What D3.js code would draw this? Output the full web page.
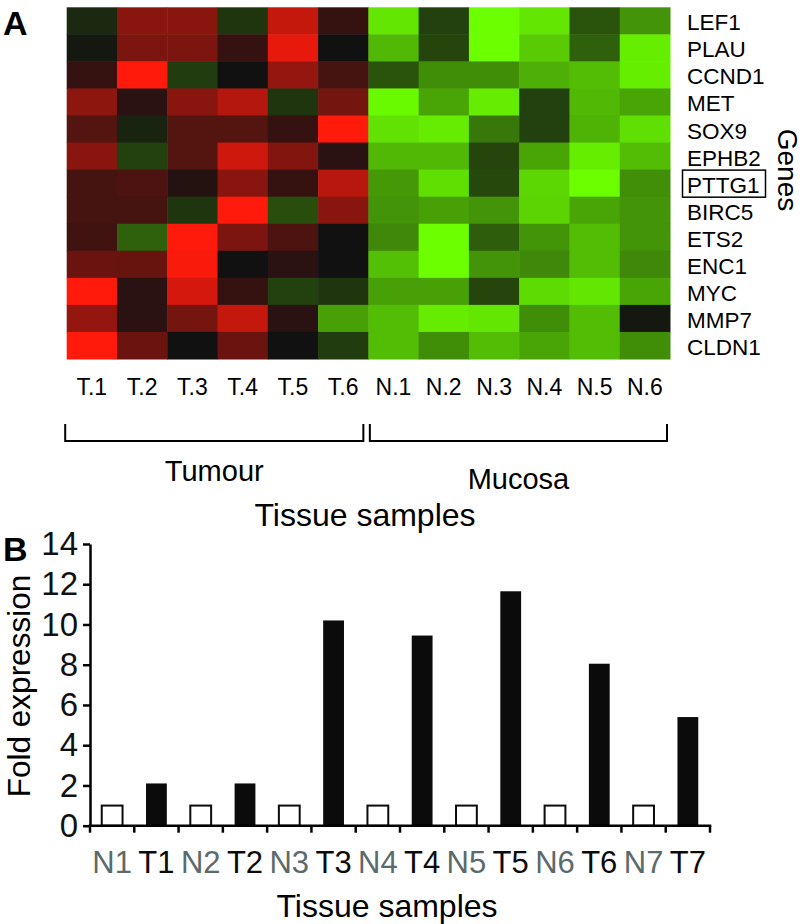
<!DOCTYPE html>
<html>
<head>
<meta charset="utf-8">
<script src="https://cdn.jsdelivr.net/npm/d3@7"></script>
<style>
  body { margin: 0; background: #fff; }
  svg { display: block; font-family: "Liberation Sans", Arial, sans-serif; }
</style>
</head>
<body>
<svg id="chart"></svg>
<script>
// panel A data
const genes = ['LEF1', 'PLAU', 'CCND1', 'MET', 'SOX9', 'EPHB2', 'PTTG1', 'BIRC5', 'ETS2', 'ENC1', 'MYC', 'MMP7', 'CLDN1'];
const tumourSamples = ['T.1', 'T.2', 'T.3', 'T.4', 'T.5', 'T.6'];
const mucosaSamples = ['N.1', 'N.2', 'N.3', 'N.4', 'N.5', 'N.6'];
// relative expression, +1 = red (up), -1 = green (down), one row per gene
const expression = [
    [-0.10, 0.50, 0.50, -0.15, 0.75, 0.15,   -0.90, -0.20, -1.00, -0.90, -0.28, -0.55],
    [-0.03, 0.45, 0.45, 0.15, 0.90, 0.00,    -0.70, -0.22, -1.00, -0.78, -0.33, -0.93],
    [0.15, 1.00, -0.18, 0.00, 0.55, 0.22,    -0.28, -0.52, -0.52, -0.67, -0.72, -0.93],
    [0.52, 0.10, 0.50, 0.68, -0.15, 0.42,    -0.98, -0.62, -0.92, -0.20, -0.70, -0.62],
    [0.28, -0.08, 0.28, 0.28, 0.15, 1.00,    -0.88, -0.92, -0.43, -0.20, -0.68, -0.87],
    [0.50, -0.20, 0.28, 0.80, 0.48, 0.10,    -0.70, -0.70, -0.22, -0.62, -0.93, -0.72],
    [0.22, 0.25, 0.08, 0.50, 0.15, 0.70,     -0.57, -0.87, -0.23, -0.83, -1.00, -0.53],
    [0.22, 0.22, -0.15, 1.00, -0.25, 0.50,   -0.55, -0.60, -0.55, -0.82, -0.62, -0.55],
    [0.20, -0.33, 1.00, 0.45, 0.25, 0.00,    -0.50, -1.00, -0.32, -0.55, -0.72, -0.55],
    [0.38, 0.36, 0.98, 0.00, 0.10, 0.00,     -0.73, -1.00, -0.55, -0.50, -0.72, -0.50],
    [1.00, 0.10, 0.82, 0.15, -0.20, -0.15,   -0.60, -0.60, -0.22, -0.85, -0.90, -0.62],
    [0.55, 0.10, 0.42, 0.75, 0.10, -0.60,    -0.72, -0.92, -0.90, -0.52, -0.72, -0.03],
    [1.00, 0.38, 0.00, 0.38, 0.00, -0.18,    -0.72, -0.52, -0.72, -0.62, -0.72, -0.52]
];
const boxedGene = 'PTTG1';

// panel B data
const barSamples = ['N1', 'T1', 'N2', 'T2', 'N3', 'T3', 'N4', 'T4', 'N5', 'T5', 'N6', 'T6', 'N7', 'T7'];
const foldValues = [1, 2.1, 1, 2.1, 1, 10.2, 1, 9.45, 1, 11.65, 1, 8.05, 1, 5.4];
const yTicks = [0, 2, 4, 6, 8, 10, 12, 14];

const W = 812, H = 924;
const svg = d3.select('#chart').attr('width', W).attr('height', H);

// ---------- panel A: heatmap ----------
const samples = tumourSamples.concat(mucosaSamples);
const hx = d3.scaleBand().domain(samples).range([66.7, 670]);
const hy = d3.scaleBand().domain(genes).range([7.3, 359]);
const heatColor = d3.scaleLinear()
    .domain([-1, 0, 1])
    .range(['#6cff00', '#111111', '#ff1a0c'])
    .clamp(true);

const cells = [];
expression.forEach((row, i) => {
    row.forEach((v, j) => cells.push({gene: genes[i], sample: samples[j], value: v}));
});

svg.append('g')
    .selectAll('rect')
    .data(cells)
    .enter()
    .append('rect')
        .attr('x', d => hx(d.sample))
        .attr('y', d => hy(d.gene))
        .attr('width', hx.bandwidth() + 0.5)
        .attr('height', hy.bandwidth() + 0.5)
        .attr('fill', d => heatColor(d.value));

svg.append('text')
    .attr('x', 3).attr('y', 35)
    .attr('font-size', 34).attr('font-weight', 'bold')
    .text('A');

// gene labels
const geneLabels = svg.append('g');
geneLabels.selectAll('text')
    .data(genes)
    .enter()
    .append('text')
        .attr('x', 687)
        .attr('y', d => hy(d) + hy.bandwidth() / 2 + 2)
        .attr('dominant-baseline', 'central')
        .attr('font-size', 22.5)
        .text(d => d);

svg.append('rect')
    .attr('x', 682.5)
    .attr('y', hy(boxedGene) + 0.5)
    .attr('width', 83)
    .attr('height', hy.bandwidth())
    .attr('fill', 'none')
    .attr('stroke', '#000')
    .attr('stroke-width', 1.5);

svg.append('text')
    .attr('transform', 'translate(787,170) rotate(90)')
    .attr('text-anchor', 'middle')
    .attr('dominant-baseline', 'central')
    .attr('font-size', 28)
    .text('Genes');

// sample labels
svg.append('g')
    .selectAll('text')
    .data(samples)
    .enter()
    .append('text')
        .attr('x', d => hx(d) + hx.bandwidth() / 2)
        .attr('y', 395)
        .attr('text-anchor', 'middle')
        .attr('font-size', 23)
        .text(d => d);

// group brackets
const groups = [
    {name: 'Tumour', x0: hx('T.1') - 1.5, x1: hx('T.6') + hx.bandwidth() - 5, ly: 481},
    {name: 'Mucosa', x0: hx('N.1') + 1.5, x1: hx('N.6') + hx.bandwidth() - 3, ly: 489}
];
const bracketY = 441, bracketTop = 424;
const br = svg.append('g');
br.selectAll('path')
    .data(groups)
    .enter()
    .append('path')
        .attr('d', d => `M${d.x0},${bracketTop}V${bracketY}H${d.x1}V${bracketTop}`)
        .attr('fill', 'none')
        .attr('stroke', '#000')
        .attr('stroke-width', 2);
br.selectAll('text')
    .data(groups)
    .enter()
    .append('text')
        .attr('x', d => (d.x0 + d.x1) / 2)
        .attr('y', d => d.ly)
        .attr('text-anchor', 'middle')
        .attr('font-size', 29)
        .text(d => d.name);

svg.append('text')
    .attr('x', 365).attr('y', 526)
    .attr('text-anchor', 'middle')
    .attr('font-size', 32)
    .text('Tissue samples');

// ---------- panel B: bar chart ----------
const bx = d3.scaleBand()
    .domain(barSamples)
    .range([90, 710])
    .paddingInner(0.53)
    .paddingOuter(0.265);
const by = d3.scaleLinear().domain([0, 14]).range([825.7, 544]);

const bars = barSamples.map((s, i) => ({sample: s, value: foldValues[i], tumour: s[0] === 'T'}));

svg.append('g')
    .selectAll('rect')
    .data(bars)
    .enter()
    .append('rect')
        .attr('x', d => bx(d.sample))
        .attr('y', d => by(d.value))
        .attr('width', bx.bandwidth())
        .attr('height', d => by(0) - by(d.value))
        .attr('fill', d => d.tumour ? '#0b0b0b' : '#fff')
        .attr('stroke', '#0b0b0b')
        .attr('stroke-width', d => d.tumour ? 0 : 2);

// y axis
const yAxis = svg.append('g')
    .attr('transform', 'translate(90,0)')
    .call(d3.axisLeft(by).tickValues(yTicks).tickSize(7).tickPadding(5).tickSizeOuter(0));
yAxis.select('.domain').attr('stroke-width', 2.5);
yAxis.selectAll('.tick line').attr('stroke-width', 2.5);
yAxis.selectAll('.tick text')
    .attr('font-size', 33)
    .attr('font-family', '"Liberation Sans", Arial, sans-serif')
    .attr('fill', '#111');

// x axis: ticks on category boundaries
const step = bx.step();
const boundaries = barSamples.map(s => bx(s) - step * bx.paddingInner() / 2)
    .concat([bx(barSamples[barSamples.length - 1]) + bx.bandwidth() + step * bx.paddingInner() / 2]);
const xg = svg.append('g');
xg.append('line')
    .attr('x1', 90 - 1.25).attr('x2', 710 + 1.25)
    .attr('y1', by(0)).attr('y2', by(0))
    .attr('stroke', '#000').attr('stroke-width', 2.5);
xg.selectAll('line.tk')
    .data(boundaries)
    .enter()
    .append('line')
        .attr('class', 'tk')
        .attr('x1', d => d).attr('x2', d => d)
        .attr('y1', by(0)).attr('y2', by(0) + 7)
        .attr('stroke', '#000').attr('stroke-width', 2.5);
xg.selectAll('text')
    .data(bars)
    .enter()
    .append('text')
        .attr('x', d => bx(d.sample) + bx.bandwidth() / 2)
        .attr('y', 873)
        .attr('text-anchor', 'middle')
        .attr('font-size', 31)
        .attr('fill', d => d.tumour ? '#0b0b0b' : '#5b6a6a')
        .text(d => d.sample);

svg.append('text')
    .attr('x', 387).attr('y', 917)
    .attr('text-anchor', 'middle')
    .attr('font-size', 32)
    .text('Tissue samples');

svg.append('text')
    .attr('transform', 'translate(30,686) rotate(-90)')
    .attr('text-anchor', 'middle')
    .attr('font-size', 31.5)
    .text('Fold expression');

svg.append('text')
    .attr('x', 3).attr('y', 561)
    .attr('font-size', 34).attr('font-weight', 'bold')
    .text('B');
</script>
</body>
</html>
